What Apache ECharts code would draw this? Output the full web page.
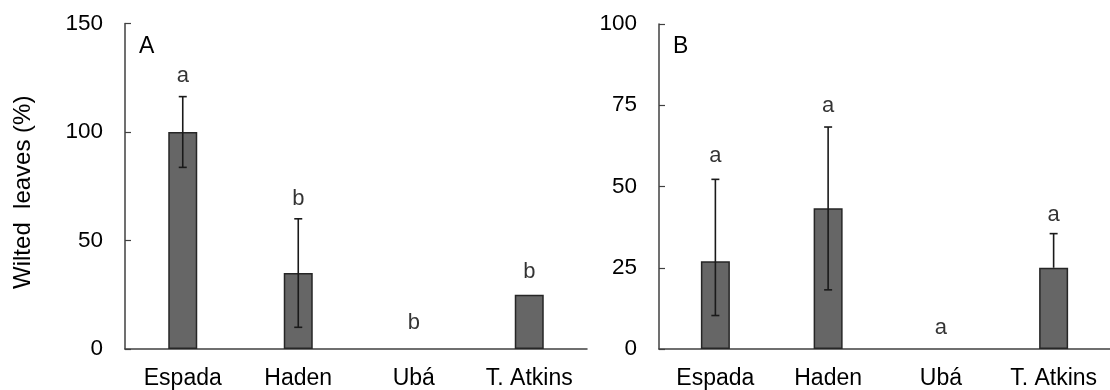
<!DOCTYPE html>
<html>
<head>
<meta charset="utf-8">
<script src="https://cdn.jsdelivr.net/npm/echarts@6/dist/echarts.min.js"></script>
<style>
html,body{margin:0;padding:0;background:#fff;}
#chart{width:1110px;height:390px;}
</style>
</head>
<body>
<div id="chart"></div>
<script>
// ---- data ----
const categories = ['Espada', 'Haden', 'Ubá', 'T. Atkins'];

const valuesA = [100, 35, 0, 25];
const errUpperA = [116.3, 60, null, null];
const errLowerA = [83.7, 10, null, null];
const lettersA = ['a', 'b', 'b', 'b'];
const letterPosA = [126, 69, 12, 35.7];

const valuesB = [27, 43.3, 0, 25];
const errUpperB = [52.2, 68.3, null, 35.5];
const errLowerB = [10.3, 18.2, null, null];
const lettersB = ['a', 'a', 'a', 'a'];
const letterPosB = [59.3, 74.8, 6.6, 41.2];

const yTicksA = { min: 0, max: 150, interval: 50 };
const yTicksB = { min: 0, max: 100, interval: 25 };
const panelLabels = ['A', 'B'];
const yAxisName = 'Wilted  leaves (%)';

// ---- chart ----
const FONT = 'Liberation Sans, Arial, sans-serif';
const AXIS_COLOR = '#404040';

function errData(vals, up, lo) {
  const out = [];
  vals.forEach((v, i) => {
    if (up[i] == null && lo[i] == null) return;
    out.push([i, v, up[i] == null ? v : up[i], lo[i] == null ? v : lo[i]]);
  });
  return out;
}

function errRender(params, api) {
  const i = api.value(0);
  const hi = api.coord([i, api.value(2)]);
  const lo = api.coord([i, api.value(3)]);
  const half = 4;
  const st = { stroke: '#1a1a1a', lineWidth: 1.6 };
  const children = [
    { type: 'line', shape: { x1: hi[0], y1: hi[1], x2: lo[0], y2: lo[1] }, style: st }
  ];
  if (api.value(2) !== api.value(1)) {
    children.push({ type: 'line', shape: { x1: hi[0] - half, y1: hi[1], x2: hi[0] + half, y2: hi[1] }, style: st });
  }
  if (api.value(3) !== api.value(1)) {
    children.push({ type: 'line', shape: { x1: lo[0] - half, y1: lo[1], x2: lo[0] + half, y2: lo[1] }, style: st });
  }
  return { type: 'group', children: children };
}

function xAxis(gi) {
  return {
    type: 'category', gridIndex: gi, data: categories,
    axisLine: { lineStyle: { color: AXIS_COLOR, width: 1.5 } },
    axisTick: { inside: true, length: 6, lineStyle: { color: AXIS_COLOR, width: 1.2 } },
    axisLabel: { color: '#000', fontSize: 23, fontFamily: FONT, margin: 18, interval: 0 },
    splitLine: { show: false }
  };
}
function yAxis(gi, t, withName) {
  const ax = {
    type: 'value', gridIndex: gi, min: t.min, max: t.max, interval: t.interval,
    axisLine: { show: true, lineStyle: { color: AXIS_COLOR, width: 1.5 } },
    axisTick: { show: true, inside: true, length: 6, lineStyle: { color: AXIS_COLOR, width: 1.2 } },
    axisLabel: { color: '#000', fontSize: 22.5, fontFamily: FONT, margin: 22 },
    splitLine: { show: false }
  };
  if (withName) {
    ax.name = yAxisName;
    ax.nameLocation = 'middle';
    ax.nameGap = 90;
    ax.nameTextStyle = { color: '#000', fontSize: 24, fontFamily: FONT, padding: [0, 12, 0, 0] };
  }
  return ax;
}
function barSeries(gi, vals) {
  return {
    type: 'bar', xAxisIndex: gi, yAxisIndex: gi, barWidth: 29,
    data: vals.map(v => v === 0 ? { value: v, itemStyle: { borderWidth: 0 } } : v),
    itemStyle: { color: '#666666', borderColor: '#262626', borderWidth: 1.5 },
    silent: true, animation: false
  };
}
function errSeries(gi, vals, up, lo) {
  return {
    type: 'custom', xAxisIndex: gi, yAxisIndex: gi, renderItem: errRender,
    data: errData(vals, up, lo), encode: { x: 0, y: [1, 2, 3] }, z: 5,
    silent: true, animation: false
  };
}
function letterSeries(gi, pos, letters) {
  return {
    type: 'scatter', xAxisIndex: gi, yAxisIndex: gi, symbolSize: 0,
    data: pos.map((y, i) => [i, y]),
    label: {
      show: true, position: 'inside', color: '#000', fontSize: 22, fontFamily: FONT,
      formatter: p => letters[p.dataIndex]
    },
    silent: true, animation: false, z: 6
  };
}

const chart = echarts.init(document.getElementById('chart'));
chart.setOption({
  animation: false,
  backgroundColor: '#fff',
  title: [
    { text: panelLabels[0], left: 134, top: 30, textStyle: { color: '#000', fontSize: 23, fontWeight: 'normal', fontFamily: FONT } },
    { text: panelLabels[1], left: 668, top: 30, textStyle: { color: '#000', fontSize: 23, fontWeight: 'normal', fontFamily: FONT } }
  ],
  grid: [
    { left: 125, top: 23.5, width: 462, bottom: 39 },
    { left: 659, top: 24, width: 463, bottom: 40.5 }
  ],
  xAxis: [xAxis(0), xAxis(1)],
  yAxis: [yAxis(0, yTicksA, true), yAxis(1, yTicksB, false)],
  series: [
    barSeries(0, valuesA),
    errSeries(0, valuesA, errUpperA, errLowerA),
    letterSeries(0, letterPosA, lettersA),
    barSeries(1, valuesB),
    errSeries(1, valuesB, errUpperB, errLowerB),
    letterSeries(1, letterPosB, lettersB)
  ]
});
</script>
</body>
</html>
